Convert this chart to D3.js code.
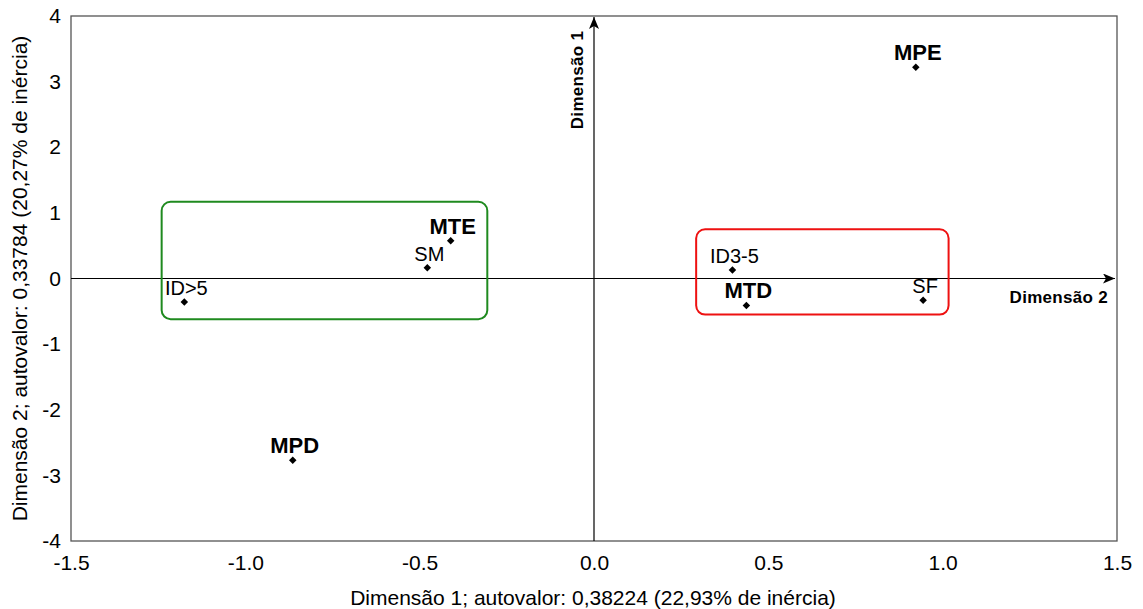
<!DOCTYPE html>
<html>
<head>
<meta charset="utf-8">
<script src="https://cdn.jsdelivr.net/npm/d3@7"></script>
<style>
  body { margin: 0; background: #fff; }
  text { font-family: "Liberation Sans", Arial, sans-serif; }
</style>
</head>
<body>
<div id="chart"></div>
<script>
// point coordinates (Dimensão 1 on x, Dimensão 2 on y)
var labels = ["MPE", "MTE", "SM", "ID>5", "ID3-5", "MTD", "SF", "MPD"];
var xVals = [0.923, -0.411, -0.478, -1.175, 0.397, 0.437, 0.944, -0.864];
var yVals = [3.22, 0.576, 0.165, -0.358, 0.13, -0.41, -0.33, -2.77];
var bold = [true, true, false, false, false, true, false, true];

var xTicks = [-1.5, -1.0, -0.5, 0.0, 0.5, 1.0, 1.5];
var yTicks = [-4, -3, -2, -1, 0, 1, 2, 3, 4];

// grouping boxes [x0, x1, y0, y1]
var boxGreen = [-1.24, -0.306, -0.62, 1.17];
var boxRed = [0.293, 1.017, -0.55, 0.75];

var W = 1143, H = 609,
    margin = { top: 16, right: 26, bottom: 68, left: 71 },
    width = W - margin.left - margin.right,
    height = H - margin.top - margin.bottom;

var svg = d3.select("#chart").append("svg")
    .attr("width", W).attr("height", H);

var g = svg.append("g")
    .attr("transform", "translate(" + margin.left + "," + margin.top + ")");

var x = d3.scaleLinear().domain([-1.5, 1.5]).range([0, width]);
var y = d3.scaleLinear().domain([-4, 4]).range([height, 0]);

// frame
g.append("rect")
    .attr("width", width).attr("height", height)
    .attr("fill", "none").attr("stroke", "#555").attr("stroke-width", 1.3);

// tick labels (no tick marks in the original), plain hyphen for minus
var hy = function(f) { return function(d) { return f(d).replace("\u2212", "-"); }; };
var xAxis = d3.axisBottom(x).tickValues(xTicks).tickFormat(hy(d3.format(".1f"))).tickSize(0).tickPadding(14);
var yAxis = d3.axisLeft(y).tickValues(yTicks).tickFormat(hy(d3.format("d"))).tickSize(0).tickPadding(10);

g.append("g").attr("transform", "translate(0," + height + ")").call(xAxis)
  .call(function(s) { s.select(".domain").remove(); })
  .selectAll("text").style("font-size", "21px").attr("fill", "#000");
g.append("g").call(yAxis)
  .call(function(s) { s.select(".domain").remove(); })
  .selectAll("text").style("font-size", "21px").attr("fill", "#000");

// axis titles
svg.append("text")
    .attr("x", margin.left + width / 2 - 1).attr("y", 605)
    .attr("text-anchor", "middle").style("font-size", "21px")
    .text("Dimensão 1; autovalor: 0,38224 (22,93% de inércia)");
svg.append("text")
    .attr("transform", "translate(27," + (margin.top + height / 2) + ") rotate(-90)")
    .attr("text-anchor", "middle").style("font-size", "21px")
    .text("Dimensão 2; autovalor: 0,33784 (20,27% de inércia)");

// arrow marker
svg.append("defs").append("marker")
    .attr("id", "arr").attr("viewBox", "0 0 12 10")
    .attr("refX", 12).attr("refY", 5)
    .attr("markerWidth", 12).attr("markerHeight", 10)
    .attr("markerUnits", "userSpaceOnUse")
    .attr("orient", "auto")
  .append("path").attr("d", "M0,0 L12,5 L0,10 L3,5 Z").attr("fill", "#000");

// central axes
g.append("line")
    .attr("x1", 0).attr("x2", x(1.5) - 2)
    .attr("y1", y(0)).attr("y2", y(0))
    .attr("stroke", "#000").attr("stroke-width", 1.2)
    .attr("marker-end", "url(#arr)");
g.append("line")
    .attr("x1", x(0)).attr("x2", x(0))
    .attr("y1", height).attr("y2", y(4) + 1)
    .attr("stroke", "#000").attr("stroke-width", 1.2)
    .attr("marker-end", "url(#arr)");

g.append("text")
    .attr("x", x(1.5) - 9).attr("y", y(0) + 24)
    .attr("text-anchor", "end").style("font-size", "17px")
    .style("font-weight", "bold").style("letter-spacing", "0.3px")
    .text("Dimensão 2");
g.append("text")
    .attr("transform", "translate(" + (x(0) - 11) + "," + (y(4) + 64) + ") rotate(-90)")
    .attr("text-anchor", "middle").style("font-size", "17px")
    .style("font-weight", "bold").style("letter-spacing", "0.3px")
    .text("Dimensão 1");

// boxes
[[boxGreen, "#1f8a1f"], [boxRed, "#ee1111"]].forEach(function(b) {
  var d = b[0];
  g.append("rect")
      .attr("x", x(d[0])).attr("y", y(d[3]))
      .attr("width", x(d[1]) - x(d[0]))
      .attr("height", y(d[2]) - y(d[3]))
      .attr("rx", 9).attr("ry", 9)
      .attr("fill", "none").attr("stroke", b[1]).attr("stroke-width", 2);
});

// points
var pts = labels.map(function(l, i) {
  return { label: l, x: xVals[i], y: yVals[i], bold: bold[i] };
});

g.selectAll(".pt").data(pts).enter().append("path")
    .attr("class", "pt")
    .attr("transform", function(d) { return "translate(" + x(d.x) + "," + y(d.y) + ")"; })
    .attr("d", d3.symbol(d3.symbolDiamond2, 36))
    .attr("fill", "#000");

g.selectAll(".lbl").data(pts).enter().append("text")
    .attr("class", "lbl")
    .attr("x", function(d) { return x(d.x) + 2; })
    .attr("y", function(d) { return y(d.y) - 7; })
    .attr("text-anchor", "middle")
    .style("font-size", function(d) { return d.bold ? "22px" : "20px"; })
    .style("font-weight", function(d) { return d.bold ? "bold" : "normal"; })
    .text(function(d) { return d.label; });
</script>
</body>
</html>
